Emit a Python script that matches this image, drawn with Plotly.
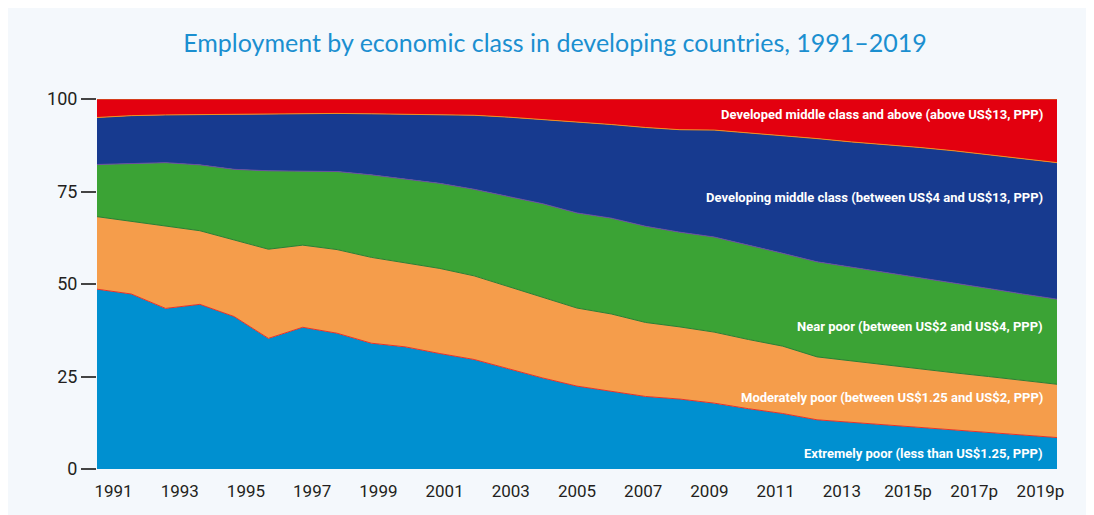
import plotly.graph_objects as go

years = list(range(1991, 2020))
year_labels = ['1991', '1993', '1995', '1997', '1999', '2001', '2003', '2005',
               '2007', '2009', '2011', '2013', '2015p', '2017p', '2019p']

# shares of employment (%) by economic class
extremely_poor = [48.6, 47.3, 43.4, 44.5, 41.2, 35.3, 38.3, 36.7, 34.0, 33.0,
                  31.2, 29.6, 27.1, 24.6, 22.4, 21.0, 19.6, 18.9, 17.8, 16.3,
                  15.0, 13.3, 12.6, 12.0, 11.3, 10.6, 10.0, 9.3, 8.5]
moderately_poor = [19.6, 19.6, 22.3, 19.9, 20.7, 24.1, 22.2, 22.6, 23.2, 22.8,
                   23.0, 22.6, 22.2, 21.7, 21.1, 20.9, 20.0, 19.5, 19.2, 18.7,
                   18.2, 17.0, 16.6, 16.0, 15.6, 15.4, 15.0, 14.7, 14.4]
near_poor = [14.1, 15.7, 17.1, 17.8, 19.1, 21.2, 20.0, 21.1, 22.3, 22.6,
             23.0, 23.4, 24.4, 25.4, 25.7, 25.9, 26.0, 25.6, 25.7, 25.6,
             25.1, 25.7, 25.4, 25.1, 24.8, 24.2, 23.8, 23.3, 23.0]
developing_middle = [12.7, 12.9, 12.9, 13.6, 14.8, 15.2, 15.4, 15.7, 16.5, 17.5,
                     18.6, 20.0, 21.4, 22.8, 24.6, 25.3, 26.7, 27.7, 28.9, 30.3,
                     31.9, 33.3, 33.8, 34.6, 35.2, 35.8, 36.2, 36.7, 36.9]
developed_middle = [5.0, 4.5, 4.3, 4.2, 4.2, 4.2, 4.1, 3.9, 4.0, 4.1,
                    4.2, 4.4, 4.9, 5.5, 6.2, 6.9, 7.7, 8.3, 8.4, 9.1,
                    9.8, 10.7, 11.6, 12.3, 13.1, 14.0, 15.0, 16.0, 17.2]

series = [
    ('Extremely poor (less than US$1.25, PPP)', extremely_poor, '#0090D0', '#E8312A', 4.1),
    ('Moderately poor (between US$1.25 and US$2, PPP)', moderately_poor, '#F59D4B', '#2E7D32', 19.2),
    ('Near poor (between US$2 and US$4, PPP)', near_poor, '#3BA335', '#6A4E9E', 38.4),
    ('Developing middle class (between US$4 and US$13, PPP)', developing_middle, '#173A8F', '#F0901E', 73.5),
    ('Developed middle class and above (above US$13, PPP)', developed_middle, '#E3000F', '#C87A2A', 95.7),
]

LABEL_FONT = 'Roboto, sans-serif'

gos = []
annotations = []
for name, values, fill, edge, label_y in series:
    gos.append(go.Scatter(
        x=years,
        y=values,
        name=name,
        mode='lines',
        stackgroup='one',
        fillcolor=fill,
        line=dict(color=edge, width=1),
    ))
    annotations.append(dict(
        x=0.9875, xref='paper',
        y=label_y, yref='y',
        text=f"<b>{name}</b>",
        xanchor='right', yanchor='middle',
        showarrow=False,
        font=dict(family=LABEL_FONT, size=13, color='white'),
    ))

# year labels sit in the middle of each yearly band
tick_vals = [1991 + (i + 0.5) * 28 / 29 for i in range(0, 29, 2)]

layout = dict(
    width=1094,
    height=515,
    paper_bgcolor='#F4F8FC',
    plot_bgcolor='#F4F8FC',
    showlegend=False,
    title=dict(
        text='Employment by economic class in developing countries, 1991\u20132019',
        x=0.5, xanchor='center',
        y=0.932, yanchor='middle',
        font=dict(family='Lato, Noto Sans, sans-serif', size=25, color='#1B8FD0'),
    ),
    xaxis=dict(
        range=[1991, 2019],
        tickvals=tick_vals,
        ticktext=year_labels,
        ticks='outside',
        ticklen=7,
        tickcolor='rgba(0,0,0,0)',
        showgrid=False,
        zeroline=False,
        showline=False,
        tickfont=dict(family=LABEL_FONT, size=17, color='#231F20'),
        fixedrange=True,
    ),
    yaxis=dict(
        range=[0, 100],
        tickvals=[0, 25, 50, 75, 100],
        ticks='outside',
        ticklen=15,
        tickcolor='#444444',
        tickwidth=1.5,
        showgrid=False,
        zeroline=False,
        showline=False,
        tickfont=dict(family=LABEL_FONT, size=18, color='#231F20'),
        fixedrange=True,
    ),
    annotations=annotations,
    margin=dict(l=89, r=45, t=91, b=54),
)

fig = go.Figure(data=gos, layout=layout)
fig.write_html("out.html")
